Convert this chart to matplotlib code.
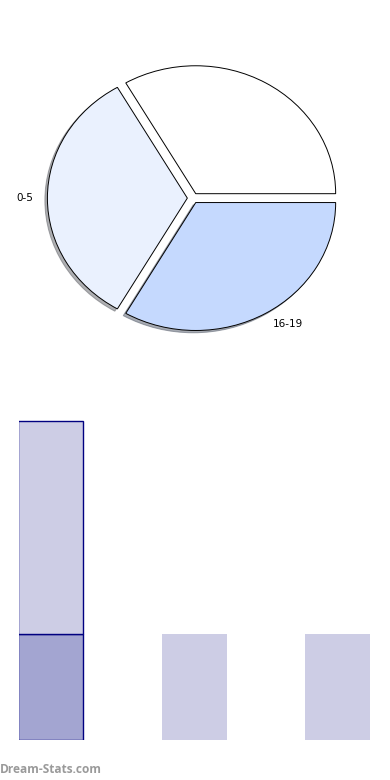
import matplotlib
matplotlib.use("Agg")
import matplotlib.pyplot as plt
from matplotlib.patches import Shadow

# pie data
pie_labels = ["", "0-5", "16-19"]
pie_values = [1, 1, 1]
pie_colors = ["#FFFFFF", "#EAF1FE", "#C5D9FE"]

# bar data (stacked)
bar_pos = [0, 1, 2]
dark_vals = [1, 0, 0]
light_vals = [2, 1, 1]

fig = plt.figure(figsize=(3.9, 7.8), dpi=100)

# pie chart (slightly squashed, exploded slices)
ax1 = fig.add_axes([0.0462, 0.541, 0.897, 0.410])
wedges, texts = ax1.pie(pie_values, labels=pie_labels, colors=pie_colors, startangle=0,
                        explode=[0.04, 0.04, 0.04], labeldistance=1.1,
                        wedgeprops={'edgecolor': 'black', 'linewidth': 0.7},
                        textprops={'fontsize': 7.5, 'color': 'black'})
# shadow only on the lower/left wedges, like the original
for w in wedges[1:]:
    sh = Shadow(w, -0.013, -0.013, shade=0.6)
    sh.set_zorder(w.get_zorder() - 0.1)
    ax1.add_patch(sh)
ax1.set_aspect('auto')
ax1.set_xlim(-1.25, 1.25)
ax1.set_ylim(-1.25, 1.25)
ax1.axis('off')

# stacked bars
ax2 = fig.add_axes([0.0487, 0.0513, 0.9, 0.436])
edges = ['#000080', 'none', 'none']
ax2.bar(bar_pos, dark_vals, width=0.453, color='#A3A5D1', edgecolor=edges, linewidth=1.0)
ax2.bar(bar_pos, light_vals, width=0.453, bottom=dark_vals, color='#CDCDE5',
        edgecolor=edges, linewidth=1.0)
ax2.set_xlim(-0.2225, 2.2265)
ax2.set_ylim(0, 3.2)
ax2.axis('off')

fig.text(0.0, 0.0055, "Dream-Stats.com", fontsize=8.6, color='#9A9A9A',
         fontweight='bold', family=['Open Sans', 'DejaVu Sans'], ha='left', va='bottom')

fig.savefig("out.png", dpi=100, facecolor='white')
